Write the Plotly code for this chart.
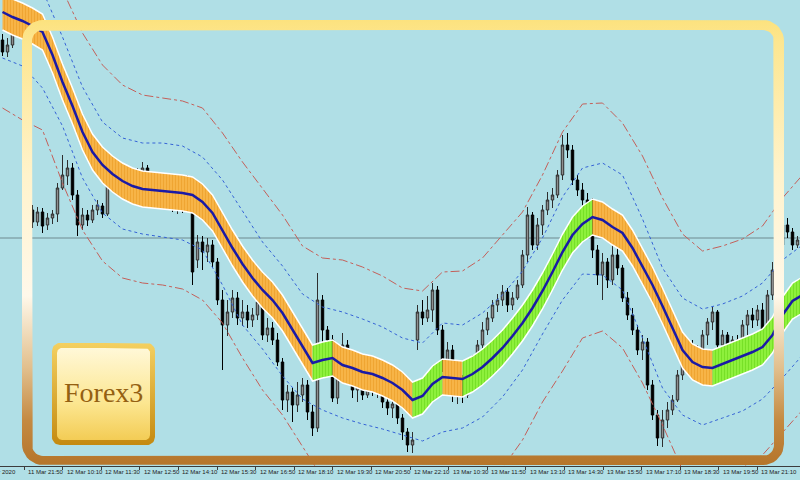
import numpy as np
import plotly.graph_objects as go

# ---------------- data (levels; axis runs top-down) ----------------
bar_open = [40,52,45,30,18,22,210,222,212,225,218,214,188,176,168,195,225,215,220,210,
            206,214,185,172,188,180,178,182,174,168,190,185,196,200,194,205,200,207,196,260,
            242,252,245,262,300,325,312,298,318,312,320,315,302,335,328,340,362,400,392,405,
            395,385,412,428,300,330,340,398,355,345,368,390,380,395,382,390,385,402,408,404,
            418,432,445,340,312,318,310,290,330,365,350,390,380,395,380,360,345,330,318,305,
            300,292,305,298,285,255,215,245,225,210,200,195,175,145,150,180,190,200,205,250,
            275,262,280,255,268,298,315,330,350,342,385,415,438,420,410,400,375,352,345,365,
            350,335,322,312,345,335,348,340,355,325,315,320,310,335,295,270,245,225,232,245]
bar_close = [52,45,30,18,22,40,222,212,226,218,214,188,175,168,195,225,215,220,210,205,
             214,185,172,188,180,178,182,174,168,190,185,196,200,194,205,200,207,196,272,242,
             252,245,262,300,325,312,298,318,312,320,315,302,335,328,340,362,400,392,405,395,
             385,412,428,300,330,340,398,355,345,368,390,380,395,382,390,385,402,408,404,418,
             432,445,440,312,318,310,290,330,365,350,390,380,395,380,360,345,330,318,305,300,
             292,305,298,285,255,215,245,225,210,200,195,175,145,150,180,190,200,205,250,275,
             262,280,255,268,298,315,330,350,342,385,415,438,420,410,400,375,352,345,365,350,
             335,322,312,345,335,348,340,355,325,315,320,310,335,295,270,245,225,232,245,240]
wick_top = [34,38,25,12,10,15,205,207,208,213,210,183,155,160,163,190,208,210,205,200,
            203,178,165,168,175,172,173,168,162,165,180,182,190,188,190,195,196,175,190,235,
            236,238,240,258,290,300,290,292,300,305,308,296,298,318,322,333,358,385,388,382,
            378,380,405,273,295,326,335,345,333,340,362,374,372,375,378,380,382,396,398,400,
            414,428,432,305,300,296,283,286,325,342,345,372,375,372,355,340,322,312,300,294,
            285,288,292,280,250,207,212,218,205,192,188,170,135,133,145,175,183,193,198,245,
            253,258,245,243,265,292,308,325,335,338,380,410,410,402,395,370,345,338,340,345,
            330,318,307,310,330,332,336,335,320,310,308,305,303,290,262,240,220,218,228,236]
wick_bottom = [56,57,48,33,28,45,228,226,233,230,224,222,190,185,200,236,230,226,223,215,
               218,216,190,194,196,190,186,185,180,195,198,202,208,210,212,214,213,212,285,268,
               270,262,268,305,370,336,318,325,326,328,327,320,340,342,345,366,410,412,422,412,
               402,420,436,432,342,348,402,404,370,372,398,402,400,398,396,398,408,415,418,424,
               440,452,453,350,325,322,322,335,372,395,402,404,403,398,385,365,348,335,322,312,
               306,312,310,300,288,262,250,250,235,215,208,198,180,158,185,196,206,212,258,285,
               300,288,285,275,302,320,335,355,360,390,420,446,447,428,415,402,380,365,370,372,
               358,345,330,352,352,355,362,362,358,335,328,326,353,340,300,275,250,238,250,248]

ma_idx = list(range(0, 161, 2))
ma_level = [12,17,21,26,32,55,82,106,132,152,
            165,174,181,186,189,190,191,192,193,195,
            202,213,231,248,264,278,290,300,313,330,
            346,363,360,358,365,368,372,374,378,383,
            390,400,396,384,377,378,379,374,367,358,
            348,336,323,308,291,272,252,235,224,217,
            220,227,233,248,266,285,306,328,350,362,
            367,368,364,360,356,352,347,335,315,301,
            295]
band_half = 18

env_idx = list(range(0, 161, 4))
dot_upper = [-40,-30,-10,37,87,122,138,143,143,146,157,180,211,242,266,294,307,312,319,327,
             338,343,323,325,313,295,271,238,197,168,163,175,219,268,298,309,304,296,283,260,245]
dot_lower = [58,66,88,126,178,213,229,234,237,240,250,285,325,349,376,399,410,418,424,429,
             435,441,432,428,417,397,370,334,300,274,275,290,338,388,415,425,418,411,399,378,355]
red_upper = [-60,-45,-25,-10,33,65,85,95,98,101,108,133,162,188,215,246,258,260,267,276,
             288,291,272,271,258,235,212,175,132,104,103,123,156,198,234,251,246,239,226,198,175]
red_lower = [108,120,130,183,230,261,278,283,285,289,300,323,358,390,415,447,478,500,515,522,
             528,530,520,505,487,468,440,402,371,338,331,348,383,425,470,490,480,468,455,432,410]

level_line = 238

tick_labels = ["11 Mar 21:50", "12 Mar 10:10", "12 Mar 11:30", "12 Mar 12:50", "12 Mar 14:10",
               "12 Mar 15:30", "12 Mar 16:50", "12 Mar 18:10", "12 Mar 19:30", "12 Mar 20:50",
               "12 Mar 22:10", "13 Mar 10:30", "13 Mar 11:50", "13 Mar 13:10", "13 Mar 14:30",
               "13 Mar 15:50", "13 Mar 17:10", "13 Mar 18:30", "13 Mar 19:50", "13 Mar 21:10"]
first_label = "11 Mar 2020"
logo_text = "Forex3"

# ---------------- styling / layout helpers ----------------
BG = "#b0dfe6"
tick_px = [24 + 38.6 * k for k in range(len(tick_labels))]
tick_idx = [p / 5.0 - 0.5 for p in tick_px]


def rrect(x0, y0, x1, y1, r, n=10):
    pts = [((x0 + x1) / 2, y0)]
    for cx, cy, a0, a1 in [(x1 - r, y0 + r, -90, 0), (x1 - r, y1 - r, 0, 90),
                           (x0 + r, y1 - r, 90, 180), (x0 + r, y0 + r, 180, 270)]:
        for t in np.linspace(np.radians(a0), np.radians(a1), n):
            pts.append((cx + r * np.cos(t), cy + r * np.sin(t)))
    pts.append(((x0 + x1) / 2, y0))
    return pts


fig = go.Figure()

# envelopes
for arr, col, dash in [(red_upper, "#c4605a", "dashdot"), (red_lower, "#c4605a", "dashdot"),
                       (dot_upper, "#3563d6", "dot"), (dot_lower, "#3563d6", "dot")]:
    fig.add_trace(go.Scatter(x=env_idx, y=arr, mode="lines",
                             line=dict(color=col, width=1, dash=dash), hoverinfo="skip"))

# band coloured by slope of the average
ma = np.array(ma_level, float)
mx = np.array(ma_idx, float)
band_top = ma - band_half
band_bot = ma + band_half
seg = ["g" if ma[k + 1] < ma[k] else "o" for k in range(len(ma) - 1)]
runs = []
s = 0
for k in range(1, len(seg)):
    if seg[k] != seg[s]:
        runs.append((s, k, seg[s]))
        s = k
runs.append((s, len(seg), seg[s]))
styles = {"o": ("#e8961e", "#f7b447"), "g": ("#5fcf12", "#8ef03c")}
for a, b, c in runs:
    xs = list(mx[a:b + 1]) + list(mx[a:b + 1][::-1])
    ys = list(band_top[a:b + 1]) + list(band_bot[a:b + 1][::-1])
    fg, bgc = styles[c]
    fig.add_trace(go.Scatter(x=xs, y=ys, mode="lines", fill="toself", line=dict(width=0),
                             fillcolor=bgc,
                             fillpattern=dict(shape="|", fgcolor=fg, bgcolor=bgc, size=3, solidity=0.35),
                             hoverinfo="skip"))
for edge in (band_top, band_bot):
    fig.add_trace(go.Scatter(x=mx, y=edge, mode="lines", line=dict(color="white", width=1.5),
                             hoverinfo="skip"))
fig.add_trace(go.Scatter(x=mx, y=ma, mode="lines", line=dict(color="#1a1aa6", width=2.5),
                         hoverinfo="skip"))

# candles (axis is top-down, so "increasing" values are falling prices)
hi = np.maximum(wick_top, wick_bottom)
lo = np.minimum(wick_top, wick_bottom)
fig.add_trace(go.Candlestick(x=list(range(len(bar_open))), open=bar_open, close=bar_close,
                             high=hi, low=lo, whiskerwidth=0,
                             increasing=dict(line=dict(color="#000000", width=1), fillcolor="#000000"),
                             decreasing=dict(line=dict(color="#2e2e2e", width=1), fillcolor="#8e8e8e"),
                             hoverinfo="skip"))

# gradient frame
outer = rrect(22, 20, 784, 465, 21)
inner = rrect(32, 30, 774, 456, 11)
ring = outer + inner[::-1] + [outer[0]]
fig.add_trace(go.Scatter(x=[p[0] for p in ring], y=[p[1] for p in ring], xaxis="x2", yaxis="y2",
                         mode="lines", fill="toself", line=dict(width=0), hoverinfo="skip",
                         fillgradient=dict(type="vertical", start=20, stop=465,
                                           colorscale=[[0, "#fce27e"], [0.05, "#fde690"], [0.35, "#fff3cc"],
                                                       [0.62, "#fff8ea"], [0.78, "#e2c08e"], [0.9, "#c48a42"],
                                                       [1, "#b5752b"]])))

# logo
lo_out = rrect(52, 343, 155, 445, 8)
lo_in = rrect(57, 348, 150, 440, 5)
fig.add_trace(go.Scatter(x=[p[0] for p in lo_out], y=[p[1] for p in lo_out], xaxis="x2", yaxis="y2",
                         mode="lines", fill="toself", line=dict(width=0), hoverinfo="skip",
                         fillgradient=dict(type="vertical", start=343, stop=445,
                                           colorscale=[[0, "#f4d060"], [1, "#c48a10"]])))
fig.add_trace(go.Scatter(x=[p[0] for p in lo_in], y=[p[1] for p in lo_in], xaxis="x2", yaxis="y2",
                         mode="lines", fill="toself", line=dict(width=0), hoverinfo="skip",
                         fillgradient=dict(type="vertical", start=348, stop=440,
                                           colorscale=[[0, "#fff8d8"], [0.6, "#fce690"], [1, "#f3cc55"]])))

annotations = [dict(x=103.5, y=392, xref="x2", yref="y2", text=logo_text, showarrow=False,
                    font=dict(family="Liberation Serif, DejaVu Serif, serif", size=28, color="#946012"))]
lab_font = dict(family="Liberation Sans, Arial, sans-serif", size=6, color="#222222")
for p, t in zip(tick_px, tick_labels):
    annotations.append(dict(x=p + 2, y=0, xref="x2", yref="paper", xanchor="left", yanchor="top",
                            yshift=-1, text=t, showarrow=False, font=lab_font))
annotations.append(dict(x=18, y=0, xref="x2", yref="paper", xanchor="right", yanchor="top",
                        yshift=-1, text=first_label, showarrow=False, font=lab_font))

fig.update_layout(
    width=800, height=480, margin=dict(l=0, r=0, t=0, b=14),
    paper_bgcolor=BG, plot_bgcolor=BG, showlegend=False,
    xaxis=dict(range=[-0.5, 159.5], showgrid=False, zeroline=False, rangeslider=dict(visible=False),
               showline=True, linecolor="#3c3c3c", linewidth=1, ticks="outside", ticklen=3,
               tickcolor="#3c3c3c", tickvals=tick_idx, showticklabels=False, fixedrange=True),
    yaxis=dict(range=[466, 0], visible=False, fixedrange=True),
    xaxis2=dict(overlaying="x", range=[0, 800], visible=False, anchor="y2", fixedrange=True),
    yaxis2=dict(overlaying="y", range=[466, 0], visible=False, anchor="x2", fixedrange=True),
    shapes=[dict(type="line", xref="paper", x0=0, x1=1, yref="y", y0=level_line, y1=level_line,
                 line=dict(color="#6f8a90", width=1), layer="below")],
    annotations=annotations,
)

fig.write_html("out.html", config=dict(displayModeBar=False),
               post_script="document.body.style.margin='0';document.body.style.overflow='hidden';")
